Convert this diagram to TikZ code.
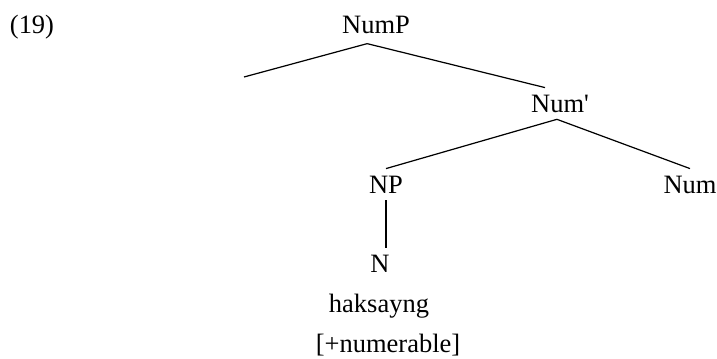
\documentclass[tikz,border=0pt]{standalone}
\usepackage{fontspec}
\setmainfont{Liberation Serif}
\usetikzlibrary{positioning}

\begin{document}
\begin{tikzpicture}
    %defining some styles
    [
        x=0.453pt, y=-0.453pt,
        label/.style={anchor=base, inner sep=3pt, font=\fontsize{12pt}{14pt}\selectfont},
        branch/.style={draw=black, line width=0.55pt},
    ]
    \useasboundingbox (0,0) rectangle (717,358);
    \node at (32,33) [label] (ex) {(19)};
    \node at (376,33) [label, inner sep=4.5pt] (NumP) {NumP};
    \coordinate (Spec) at (244,77);
    \node at (560,112) [label] (NumBar) {Num\textquotesingle};
    \node at (386,193) [label] (NP) {NP};
    \node at (690,193) [label] (Num) {Num};
    \node at (380,272) [label] (N) {N};
    \node at (379,312) [label] (word) {haksayng};
    \node at (388,352) [label] (feat) {[+numerable]};
    \draw [branch] ([xshift=-4pt]NumP.south) -- (Spec);
    \draw [branch] ([xshift=-4pt]NumP.south) -- ([xshift=-6.8pt]NumBar.north);
    \draw [branch] ([xshift=-1.4pt]NumBar.south) -- (NP.north);
    \draw [branch] ([xshift=-1.4pt]NumBar.south) -- (Num.north);
    \draw [branch] (NP.south) -- (NP.south |- N.north);
\end{tikzpicture}
\end{document}
